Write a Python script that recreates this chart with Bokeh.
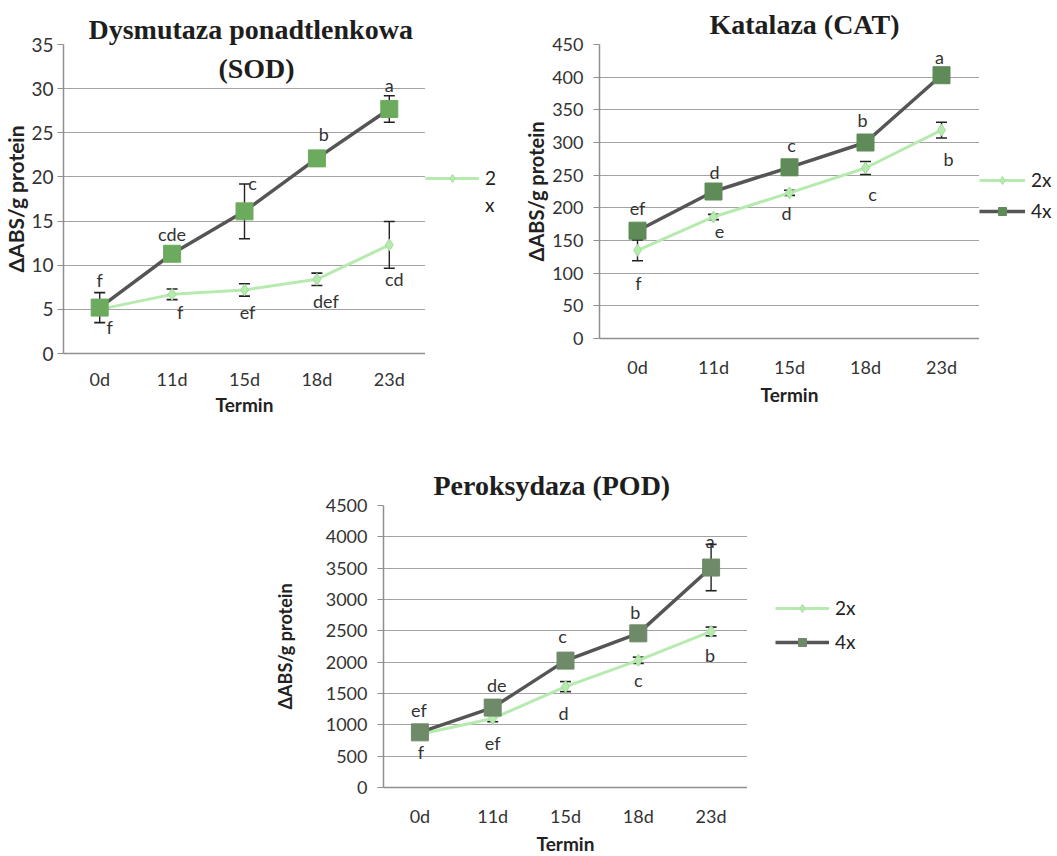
from bokeh.plotting import figure
from bokeh.models import (Range1d, FactorRange, SingleIntervalTicker, Whisker,
                          ColumnDataSource, Legend, LegendItem, Label, TeeHead, Spacer)
from bokeh.layouts import column, row
from bokeh.core.properties import value
from bokeh.embed import file_html
from bokeh.resources import INLINE

# ---------------- data ----------------
days = ["0d", "11d", "15d", "18d", "23d"]

sod_4x = [5.2, 11.3, 16.1, 22.1, 27.7]
sod_4x_err = [1.7, 0.5, 3.1, 0.7, 1.5]
sod_2x = [5.0, 6.7, 7.2, 8.4, 12.3]
sod_2x_err = [0.4, 0.6, 0.7, 0.7, 2.65]
sod_4x_letters = ["f", "cde", "c", "b", "a"]
sod_2x_letters = ["f", "f", "ef", "def", "cd"]

cat_4x = [165, 225, 262, 300, 403]
cat_4x_err = [6, 5, 5, 5, 5]
cat_2x = [135, 186, 223, 261, 319]
cat_2x_err = [16, 4, 4, 10, 12]
cat_4x_letters = ["ef", "d", "c", "b", "a"]
cat_2x_letters = ["f", "e", "d", "c", "b"]

pod_4x = [880, 1275, 2025, 2460, 3510]
pod_4x_err = [60, 60, 60, 60, 370]
pod_2x = [850, 1100, 1610, 2030, 2490]
pod_2x_err = [40, 50, 80, 50, 70]
pod_4x_letters = ["ef", "de", "c", "b", "a"]
pod_2x_letters = ["f", "ef", "d", "c", "b"]

# legend entries ("2x" is wrapped onto two lines in the SOD panel)
sod_legend = [("2", "2x"), ("x", None)]
cat_legend = [("2x", "2x"), ("4x", "4x")]
pod_legend = [("2x", "2x"), ("4x", "4x")]

# ---------------- styles ----------------
C_LINE4 = "#555555"
C_LINE2 = "#b6eaae"
C_GRID = "#a3a3a3"
C_TEXT = "#333333"
TICK_FONT = "Lato"


def style_2x_line(p, src):
    return p.line("x", "y", source=src, line_color=C_LINE2, line_width=3)


def style_2x_marker(p, src):
    return p.scatter("x", "y", source=src, marker="diamond", size=12,
                     fill_color=C_LINE2, line_color="#a4dc9c")


def style_4x_line(p, src):
    return p.line("x", "y", source=src, line_color=C_LINE4, line_width=3.5)


def style_4x_marker(p, src, sq_color):
    return p.scatter("x", "y", source=src, marker="square", size=17,
                     fill_color=sq_color, line_color=sq_color)


def make_chart(title, title_offset, title_standoff, ymax, interval,
               v4, e4, v2, e2, l4, l2, off4, off2, sq_color,
               borders, frame, ytick_size, ylabel_size, x_tick_standoff,
               y_tick_standoff, x_label_standoff, y_label_standoff):
    left, top, bottom = borders
    p = figure(x_range=FactorRange(*days), y_range=Range1d(0, ymax),
               frame_width=frame[0], frame_height=frame[1],
               min_border_left=left, min_border_top=top,
               min_border_right=0, min_border_bottom=bottom,
               output_backend="svg", toolbar_location=None)
    p.outline_line_color = None
    p.background_fill_color = "white"
    p.xgrid.grid_line_color = None
    p.ygrid.grid_line_color = C_GRID
    p.ygrid.grid_line_width = 1.2
    p.yaxis.ticker = SingleIntervalTicker(interval=interval)

    p.title.text = title
    p.title.align = "left"
    p.title.offset = title_offset
    p.title.standoff = title_standoff
    p.title.text_font = "Liberation Serif"
    p.title.text_font_style = "bold"
    p.title.text_font_size = "28px"
    p.title.text_color = "#1e1e1e"

    for ax in (p.xaxis[0], p.yaxis[0]):
        ax.major_label_text_font = TICK_FONT
        ax.major_label_text_font_size = "18px"
        ax.major_label_text_color = C_TEXT
        ax.axis_label_text_font = TICK_FONT
        ax.axis_label_text_font_style = "bold"
        ax.axis_label_text_color = "#222222"
        ax.minor_tick_line_color = None
        ax.axis_line_color = "#8f8f8f"
        ax.axis_line_width = 1.5

    p.yaxis.major_label_text_font_size = ytick_size
    p.yaxis.axis_label_text_font_size = ylabel_size
    p.yaxis.major_tick_line_color = "#8f8f8f"
    p.yaxis.major_tick_out = 6
    p.yaxis.major_tick_in = 0
    p.yaxis.major_label_standoff = y_tick_standoff
    p.yaxis.axis_label = "ΔABS/g protein"
    p.yaxis.axis_label_standoff = y_label_standoff

    p.xaxis.axis_label_text_font_size = "19px"
    p.xaxis.major_tick_line_color = None
    p.xaxis.major_label_standoff = x_tick_standoff
    p.xaxis.axis_label = "Termin"
    p.xaxis.axis_label_standoff = x_label_standoff

    src2 = ColumnDataSource(dict(x=days, y=v2, lower=[a - b for a, b in zip(v2, e2)],
                                 upper=[a + b for a, b in zip(v2, e2)], lab=l2,
                                 dx=[o[0] for o in off2], dy=[o[1] for o in off2]))
    src4 = ColumnDataSource(dict(x=days, y=v4, lower=[a - b for a, b in zip(v4, e4)],
                                 upper=[a + b for a, b in zip(v4, e4)], lab=l4,
                                 dx=[o[0] for o in off4], dy=[o[1] for o in off4]))

    style_2x_line(p, src2)
    style_2x_marker(p, src2)
    style_4x_line(p, src4)
    style_4x_marker(p, src4, sq_color)

    for src in (src2, src4):
        w = Whisker(base="x", upper="upper", lower="lower", source=src,
                    line_color="#222222", line_width=1.4,
                    upper_head=TeeHead(size=11, line_color="#222222", line_width=1.6),
                    lower_head=TeeHead(size=11, line_color="#222222", line_width=1.6))
        p.add_layout(w)

    for src in (src4, src2):
        p.text("x", "y", text="lab", source=src, x_offset="dx", y_offset="dy",
               text_align="center", text_baseline="middle",
               text_font=value(TICK_FONT), text_font_size="18px",
               text_color=C_TEXT)
    return p


def make_legend_fig(entries, v2, v4, sq_color, width, top, frame_h, bottom,
                    loc, spacing, glyph_w):
    """A narrow, axis-free panel next to a chart that only holds its legend.
    Its renderers carry the series, but its y range lies below the data so
    only the legend swatches are visible."""
    L = figure(x_range=FactorRange(*days), y_range=Range1d(-20, -10),
               frame_width=width, frame_height=frame_h,
               min_border_left=0, min_border_right=0,
               min_border_top=top, min_border_bottom=bottom,
               x_axis_location=None, y_axis_location=None,
               output_backend="svg", toolbar_location=None)
    L.outline_line_color = None
    L.grid.visible = False
    s2 = ColumnDataSource(dict(x=days, y=v2))
    s4 = ColumnDataSource(dict(x=days, y=v4))
    items = []
    for lab, series in entries:
        if series == "2x":
            rs = [style_2x_line(L, s2), style_2x_marker(L, s2)]
        elif series == "4x":
            rs = [style_4x_line(L, s4), style_4x_marker(L, s4, sq_color)]
        else:
            # continuation line of a wrapped label: no visible glyph
            rs = [L.line("x", "y", source=s2, line_alpha=0)]
        items.append(LegendItem(label=lab, renderers=rs))
    legend = Legend(items=items, location=loc, background_fill_alpha=0,
                    border_line_color=None, padding=0, margin=0,
                    spacing=spacing, glyph_width=glyph_w, glyph_height=20,
                    label_standoff=6, label_text_font=TICK_FONT,
                    label_text_font_size="19px", label_text_color="#222222")
    L.add_layout(legend)
    return L


p1 = make_chart("Dysmutaza ponadtlenkowa", 25, 0, 35, 5,
                sod_4x, sod_4x_err, sod_2x, sod_2x_err,
                sod_4x_letters, sod_2x_letters,
                [(0, -28), (0, -20), (8, -28), (7, -24), (0, -24)],
                [(10, 18), (8, 18), (3, 22), (9, 22), (5, 34)],
                "#6cab5d", (63, 44, 77), (362, 309), "19px", "21px", 8, 4, 0, 0)
p1.add_layout(Label(x=193, y=285, x_units="screen", y_units="screen",
                    text="(SOD)", text_align="center", text_baseline="middle",
                    text_font="Liberation Serif", text_font_style="bold",
                    text_font_size="28px", text_color="#1e1e1e"))
l1 = make_legend_fig(sod_legend, sod_2x, sod_4x, "#6cab5d", 96, 44, 309, 77,
                     (0, 137), 4, 54)

p2 = make_chart("Katalaza (CAT)", 110, 10, 450, 50,
                cat_4x, cat_4x_err, cat_2x, cat_2x_err,
                cat_4x_letters, cat_2x_letters,
                [(0, -23), (1, -20), (2, -22), (-3, -23), (-2, -18)],
                [(1, 33), (6, 15), (-3, 20), (7, 26), (7, 29)],
                "#5e8b58", (74, 44, 92), (380, 294), "18px", "20px", 11, 10, 2, 1)
l2 = make_legend_fig(cat_legend, cat_2x, cat_4x, "#5e8b58", 76, 44, 294, 92,
                     (0, 116), 8, 46)

p3 = make_chart("Peroksydaza (POD)", 50, 10, 4500, 500,
                pod_4x, pod_4x_err, pod_2x, pod_2x_err,
                pod_4x_letters, pod_2x_letters,
                [(-1, -22), (4, -23), (-3, -25), (-3, -21), (-1, -27)],
                [(1, 18), (0, 24), (-2, 26), (0, 20), (-1, 24)],
                "#6e8a68", (113, 75, 64), (364, 282), "18px", "18px", 11, 10, 2, 27)
l3 = make_legend_fig(pod_legend, pod_2x, pod_4x, "#6e8a68", 120, 75, 282, 64,
                     (28, 134), 11, 54)

layout = column(row(p1, l1, p2, l2), row(Spacer(width=270, height=10), p3, l3))

open("out.html", "w").write(file_html(layout, INLINE))
